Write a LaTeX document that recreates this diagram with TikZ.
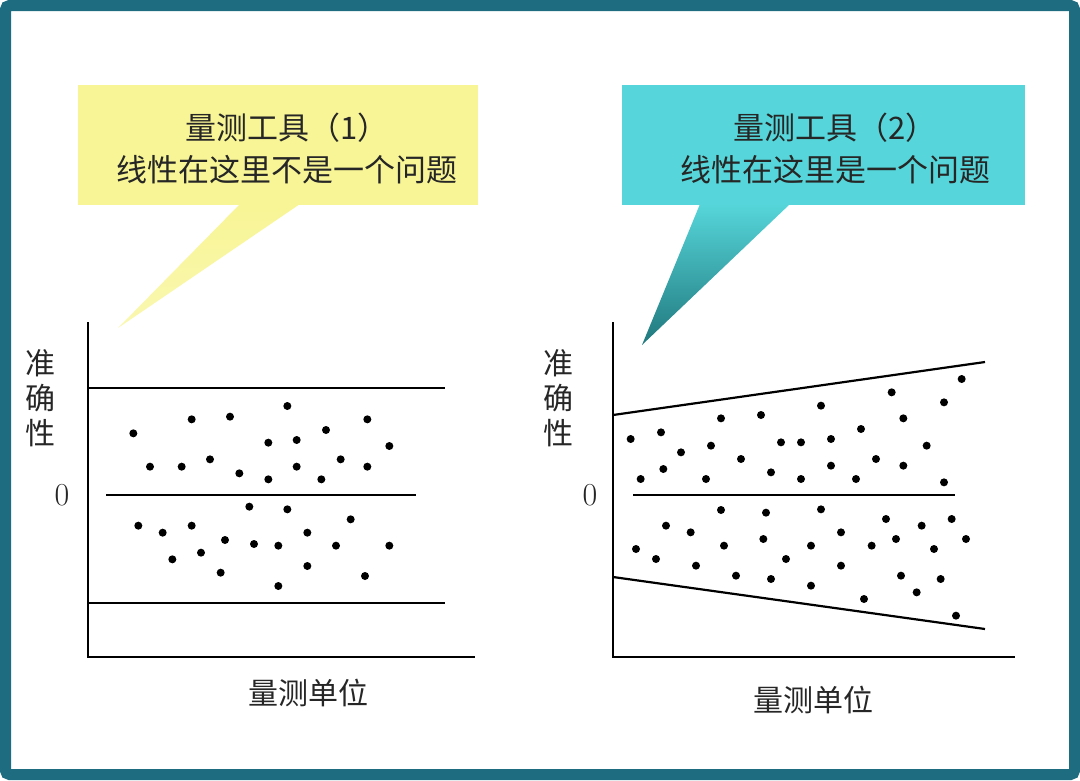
\documentclass[tikz,border=0pt]{standalone}
\usepackage{fontspec}
\newfontfamily\cjk{Noto Sans CJK SC}
\usetikzlibrary{positioning}
\definecolor{frameTeal}{RGB}{30, 108, 128}
\definecolor{noteYellow}{RGB}{248, 245, 150}
\definecolor{noteCyan}{RGB}{86, 214, 218}
\definecolor{tailCyan}{RGB}{32, 120, 125}

\begin{document}
\begin{tikzpicture}[
        x=1pt, y=-1pt,
        axis/.style={line width=2pt, black},
        band/.style={line width=2.2pt, black},
        point/.style={circle, fill=black, inner sep=0pt, minimum size=8pt},
        note/.style={font=\cjk\fontsize{31}{42}\selectfont, align=center, text=black!85},
        axislabel/.style={font=\cjk\fontsize{30}{35}\selectfont, align=center, text=black!85},
        zero/.style={font=\fontsize{32}{32}\selectfont, text=black!85},
    ]
        % Frame
        \useasboundingbox (0,0) rectangle (1080,780);
        \draw[frameTeal, line width=11pt, rounded corners=4pt] (5.5,5.5) rectangle (1074.5,774.5);

        % Callout (1)
        \fill[noteYellow] (78,85) rectangle (478,205);
        \shade[top color=noteYellow, bottom color=noteYellow!75] (240,204) -- (300,204) -- (118,328) -- cycle;
        \node[note] (noteA) at (287,148) {量测工具（1）\\ 线性在这里不是一个问题};

        % Callout (2)
        \fill[noteCyan] (622,85) rectangle (1025,205);
        \shade[top color=noteCyan, bottom color=tailCyan] (700,204) -- (790,204) -- (642,345) -- cycle;
        \node[note] (noteB) at (835,148) {量测工具（2）\\ 线性在这里是一个问题};

        % Left chart
        \coordinate (oA) at (88,657);
        \draw[axis] (88,322) -- (oA) -- (475,657);
        \draw[band] (88,388) -- (445,388);
        \draw[band] (106,495) -- (416,495);
        \draw[band] (88,603) -- (445,603);
        \node[axislabel] (yA) at (40,398) {准\\确\\性};
        \node[zero] (zA) at (62,495) {0};
        \node[axislabel] (xA) at (308,693) {量测单位};
        \foreach \px/\py in {160/160,335/118,450/110,622/78,862/118,738/150,565/188,650/180,928/198,
            210/260,305/260,390/238,478/280,565/298,650/260,724/298,782/238,862/260,
            508/380,622/388,812/418,175/437,248/458,335/437,682/458,435/480,522/492,595/497,
            768/497,928/497,277/538,363/518,422/578,682/558,855/588,595/618} {
            \node[point] at ({80+\px/3},{380+\py/3}) {};
        }

        % Right chart
        \coordinate (oB) at (613,657);
        \draw[axis] (613,322) -- (oB) -- (1015,657);
        \draw[band] (613,415) -- (985,362);
        \draw[band] (633,495) -- (955,495);
        \draw[band] (613,577) -- (985,629);
        \node[axislabel] (yB) at (558,398) {准\\确\\性};
        \node[zero] (zB) at (590,495) {0};
        \node[axislabel] (xB) at (813,700) {量测单位};
        \foreach \px/\py in {92/267,183/247,243/307,122/387,190/357,318/387,333/287,363/205,423/327,
            483/195,513/367,543/277,603/277,603/387,663/167,693/267,693/347,768/387,783/237,
            828/327,875/127,910/205,910/347,980/287,1032/157,1032/397,1085/87,
            363/480,498/488,663/478,198/527,272/547,108/597,168/627,288/647,372/587,408/677,
            490/567,513/687,558/627,633/587,633/707,723/547,723/647,792/747,815/587,858/507,
            888/567,903/677,950/727,965/527,1002/597,1022/687,1055/507,1098/567,1068/797} {
            \node[point] at ({600+\px/3},{350+\py/3}) {};
        }
    \end{tikzpicture}
\end{document}
